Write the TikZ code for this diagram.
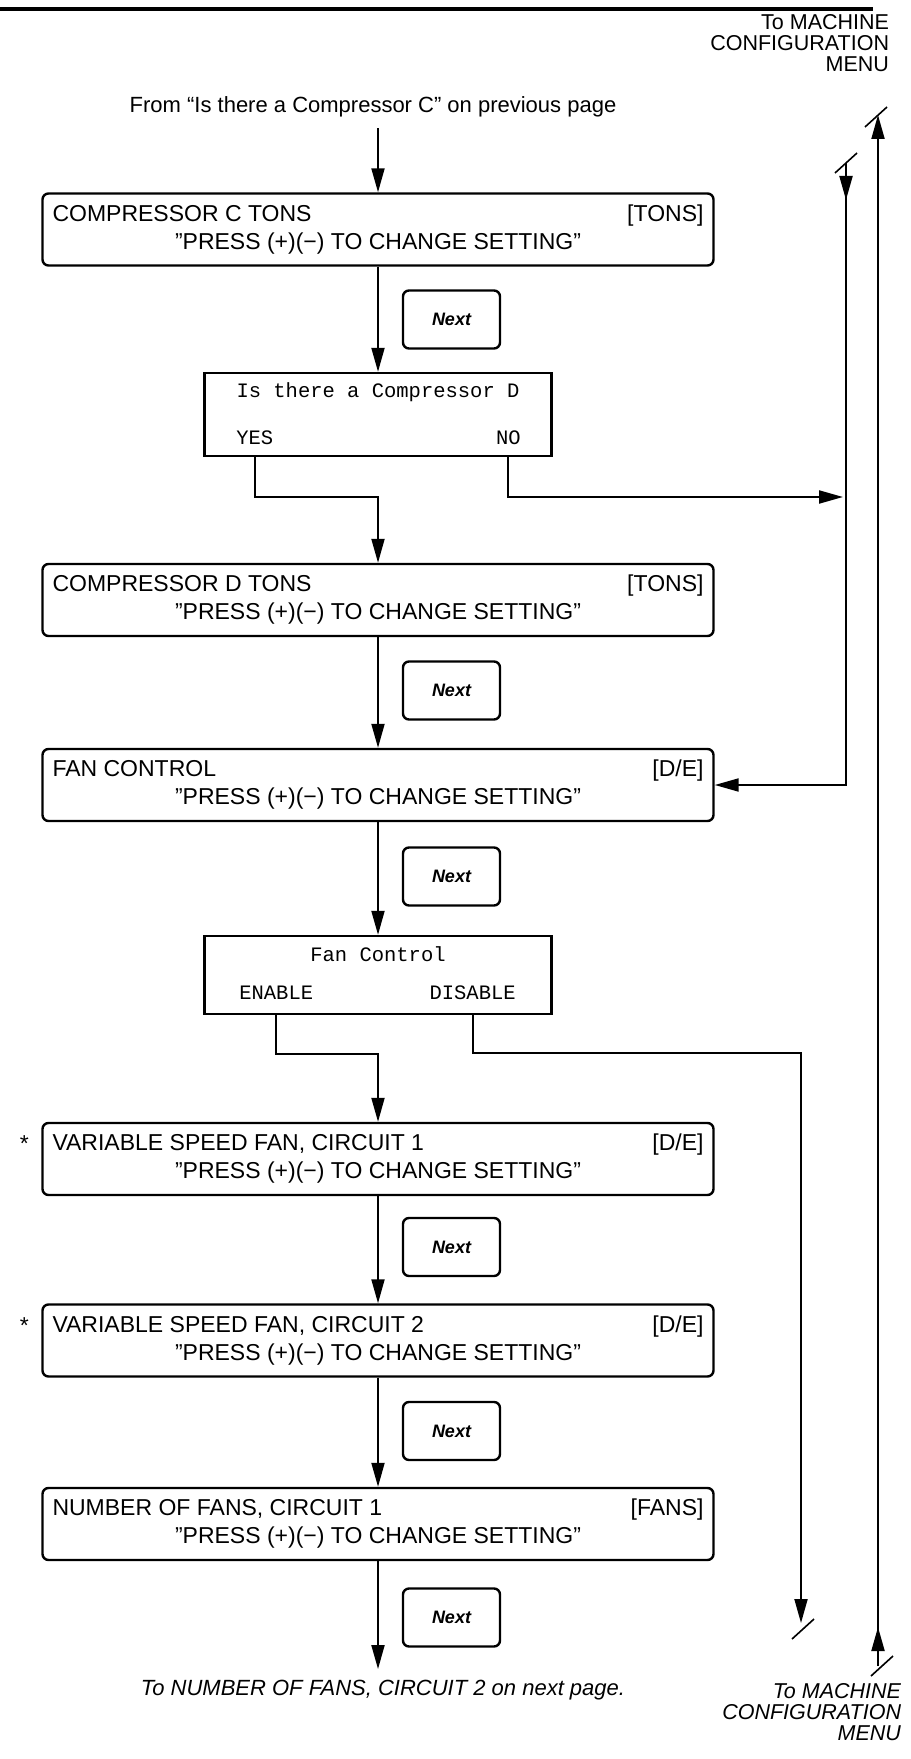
\documentclass[tikz,border=0pt]{standalone}
\usepackage{fontspec}
\setmainfont{Liberation Sans}
\setmonofont{Liberation Mono}
\usetikzlibrary{arrows.meta,calc}

\begin{document}
\begin{tikzpicture}[x=0.5pt, y=-0.5pt, >={Triangle[length=12pt,width=6.5pt]}, line width=1pt,
  every node/.style={font=\fontsize{11.5}{14}\selectfont, inner sep=0pt},
  menubox/.style={draw, line width=1.2pt, rounded corners=3pt, minimum width=335.5pt, minimum height=36pt, align=center},
  askbox/.style={draw, line width=1.2pt, minimum width=173.5pt},
  lcd/.style={font=\ttfamily\fontsize{10.25}{12}\selectfont},
  nextkey/.style={draw, line width=1.2pt, rounded corners=3pt, minimum width=48.5pt, minimum height=29pt, font=\bfseries\itshape\fontsize{9}{10}\selectfont},
  offpage/.style={font=\fontsize{10.75}{10.5}\selectfont, align=right, anchor=east},
  cut/.style={line width=0.8pt}]
\fill[white] (0,0) rectangle (910,1759); \useasboundingbox (0,0) rectangle (910,1759);
\draw[line width=2.3pt] (0,9) -- (873,9);
\node[offpage] (cfgTop) at (890,43) {To MACHINE\\CONFIGURATION\\MENU};
\node[font=\fontsize{11}{13}\selectfont] (src) at (373,107) {From “Is there a Compressor C” on previous page};
\node[menubox] (c1) at (378,229.5) {\makebox[325.5pt]{COMPRESSOR C TONS\hfill[TONS]}\\"PRESS (+)(−) TO CHANGE SETTING"};
\node[nextkey] (n1) at (451.5,319.5) {Next};
\node[askbox, minimum height=41.5pt] (qD) at (378,414.5) {};
\node[lcd] (qDt) at ($(qD.north)+(0,20)$) {Is there a Compressor D};
\node[lcd, anchor=west] (yesD) at ($(qD.south west)+(32,-19)$) {YES};
\node[lcd, anchor=east] (noD) at ($(qD.south east)+(-31,-19)$) {NO};
\node[menubox] (d1) at (378,600) {\makebox[325.5pt]{COMPRESSOR D TONS\hfill[TONS]}\\"PRESS (+)(−) TO CHANGE SETTING"};
\node[nextkey] (n2) at (451.5,690.5) {Next};
\node[menubox] (fan) at (378,785) {\makebox[325.5pt]{FAN CONTROL\hfill[D/E]}\\"PRESS (+)(−) TO CHANGE SETTING"};
\node[nextkey] (n3) at (451.5,876.5) {Next};
\node[askbox, minimum height=39pt] (qF) at (378,975) {};
\node[lcd] (qFt) at ($(qF.north)+(0,19)$) {Fan Control};
\node[lcd, anchor=west] (enF) at ($(qF.south west)+(35,-22)$) {ENABLE};
\node[lcd, anchor=east] (disF) at ($(qF.south east)+(-36,-22)$) {DISABLE};
\node[menubox] (vsf1) at (378,1159) {\makebox[325.5pt]{VARIABLE SPEED FAN, CIRCUIT 1\hfill[D/E]}\\"PRESS (+)(−) TO CHANGE SETTING"};
\node[nextkey] (n4) at (451.5,1247) {Next};
\node[menubox] (vsf2) at (378,1340.5) {\makebox[325.5pt]{VARIABLE SPEED FAN, CIRCUIT 2\hfill[D/E]}\\"PRESS (+)(−) TO CHANGE SETTING"};
\node[nextkey] (n5) at (451.5,1431) {Next};
\node[menubox] (nfan) at (378,1524) {\makebox[325.5pt]{NUMBER OF FANS, CIRCUIT 1\hfill[FANS]}\\"PRESS (+)(−) TO CHANGE SETTING"};
\node[nextkey] (n6) at (451.5,1617.5) {Next};
\node (st1) at ($(vsf1.north west)+(-17,22)$) {*}; \node (st2) at ($(vsf2.north west)+(-17,22)$) {*};
\node[font=\itshape\fontsize{11}{13}\selectfont] (dest) at (383,1690) {To NUMBER OF FANS, CIRCUIT 2 on next page.};
\node[offpage, font=\itshape\fontsize{10.75}{10.5}\selectfont] (cfgBot) at (902,1712) {To MACHINE\\CONFIGURATION\\MENU};
\coordinate (top1) at (846,163); \coordinate (top2) at (878,115); \coordinate (bot1) at (801,1623); \coordinate (bot2) at (878,1666);
\draw[->] ($(src.south -| c1.north)+(0,10)$) -- (c1.north);
\draw[->] (c1.south) -- (qD.north); \draw[->] (d1.south) -- (fan.north); \draw[->] (fan.south) -- (qF.north);
\draw[->] (vsf1.south) -- (vsf2.north); \draw[->] (vsf2.south) -- (nfan.north);
\draw[->] (nfan.south) -- ($(dest.north -| nfan.south)+(0,-10)$);
\draw[->] (qD.south -| yesD) -- ++(0,40) -| (d1.north);
\draw[->, shorten >=1.5pt] (qD.south -| noD) |- ($(top1)+(0,334)$);
\draw[->] (qF.south -| enF) -- ++(0,39) -| (vsf1.north);
\draw[->] (qF.south -| disF) |- ($(bot1)+(0,-570)$) -- (bot1);
\draw[->] (top1) -- ++(0,37); \draw[->] (top1) |- (fan.east);
\draw[->] (bot2) -- (top2); \draw[->] (bot2) -- ++(0,-39);
\draw[cut] (top1) +(-11,10) -- +(11,-10); \draw[cut] (top2) ++(-2,2) +(-11,10) -- +(11,-10);
\draw[cut] (bot1) ++(2,6) +(-11,10) -- +(11,-10); \draw[cut] (bot2) ++(4,0) +(-11,10) -- +(11,-10);
\end{tikzpicture}
\end{document}
